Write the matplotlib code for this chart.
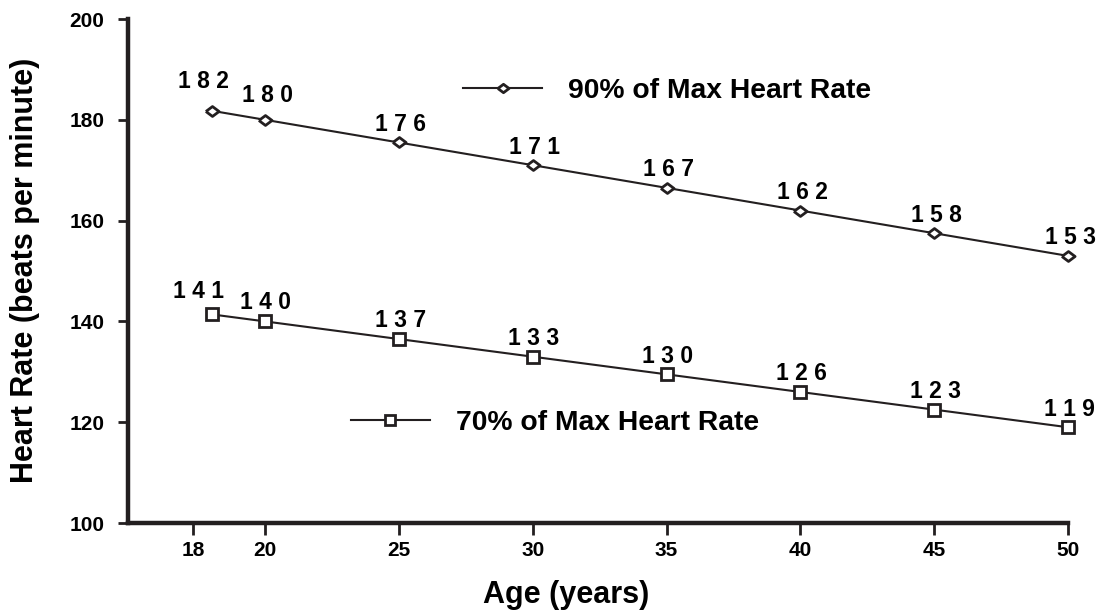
import matplotlib
matplotlib.use("Agg")
import matplotlib.pyplot as plt

# ── Data ──────────────────────────────────────────────────────────────────────
ages = [18, 20, 25, 30, 35, 40, 45, 50]
hr_90 = [181.8, 180.0, 175.5, 171.0, 166.5, 162.0, 157.5, 153.0]
hr_70 = [141.4, 140.0, 136.5, 133.0, 129.5, 126.0, 122.5, 119.0]
labels_90 = ["182", "180", "176", "171", "167", "162", "158", "153"]
labels_70 = ["141", "140", "137", "133", "130", "126", "123", "119"]
xtick_labels = ["18", "20", "25", "30", "35", "40", "45", "50"]
yticks = [100, 120, 140, 160, 180, 200]

# ── Style ─────────────────────────────────────────────────────────────────────
INK = "#231f20"
# the "18" tick sits a little left of the first point in the original chart
xtick_pos = [17.31, 20, 25, 30, 35, 40, 45, 50]
# label offsets (points) from each marker
nudge_90 = [(-6, 21), (1.5, 17.5)] + [(1.5, 13)] * 6
nudge_70 = [(-9.5, 16.5), (0, 13.5)] + [(1, 13)] * 6
FLAT_DIAMOND = [(-1, 0), (0, 0.75), (1, 0), (0, -0.75), (-1, 0)]

plt.rcParams["font.family"] = ["Liberation Sans", "DejaVu Sans"]
plt.rcParams["font.weight"] = "bold"


def spaced(s):
    return " ".join(s)


def main():
    fig = plt.figure(figsize=(11, 6.13), dpi=100, facecolor="white")
    ax = fig.add_axes([0.1164, 0.1468, 0.8545, 0.8222])

    l90, = ax.plot(ages, hr_90, color=INK, lw=1.5, marker=FLAT_DIAMOND, ms=9.5,
                   mfc="white", mec=INK, mew=2, clip_on=False)
    l70, = ax.plot(ages, hr_70, color=INK, lw=1.5, marker="s", ms=9,
                   mfc="white", mec=INK, mew=2, clip_on=False)

    for x, y, s, d in zip(ages, hr_90, labels_90, nudge_90):
        ax.annotate(spaced(s), (x, y), xytext=d, textcoords="offset points",
                    ha="center", va="center", fontsize=16.5, fontweight="bold")
    for x, y, s, d in zip(ages, hr_70, labels_70, nudge_70):
        ax.annotate(spaced(s), (x, y), xytext=d, textcoords="offset points",
                    ha="center", va="center", fontsize=16.5, fontweight="bold")

    ax.set_xlim(14.88, 50)
    ax.set_ylim(100, 200)
    ax.set_xticks(xtick_pos, xtick_labels)
    ax.set_yticks(yticks)

    for side in ("top", "right"):
        ax.spines[side].set_visible(False)
    for side in ("left", "bottom"):
        ax.spines[side].set_linewidth(3.2)
        ax.spines[side].set_color(INK)
    ax.tick_params(axis="x", direction="out", length=8.5, width=2, color=INK,
                   labelsize=15, pad=4.5)
    ax.tick_params(axis="y", direction="out", length=7, width=2, color=INK,
                   labelsize=15, pad=10)

    fig.text(566 / 1100, 0.0294, "Age (years)", ha="center", va="center",
             fontsize=22, fontweight="bold")
    fig.text(25 / 1100, 0.5595, "Heart Rate (beats per minute)", ha="center",
             va="center", rotation=90, fontsize=22, fontweight="bold")

    # Inline legends, one per series
    leg1 = ax.legend([l90], ["90% of Max Heart Rate"], loc="center left",
                     bbox_to_anchor=(0.3564, 0.857), frameon=False, numpoints=1,
                     handlelength=2.8, handletextpad=0.92, borderpad=0,
                     borderaxespad=0, markerscale=0.85,
                     prop={"weight": "bold", "size": 20.3})
    ax.add_artist(leg1)
    ax.legend([l70], ["70% of Max Heart Rate"], loc="center left",
              bbox_to_anchor=(0.2372, 0.1984), frameon=False, numpoints=1,
              handlelength=2.8, handletextpad=0.92, borderpad=0,
              borderaxespad=0, markerscale=0.75,
              prop={"weight": "bold", "size": 20.3})

    fig.savefig("out.png", dpi=100, facecolor="white")
    plt.close(fig)


if __name__ == "__main__":
    main()
